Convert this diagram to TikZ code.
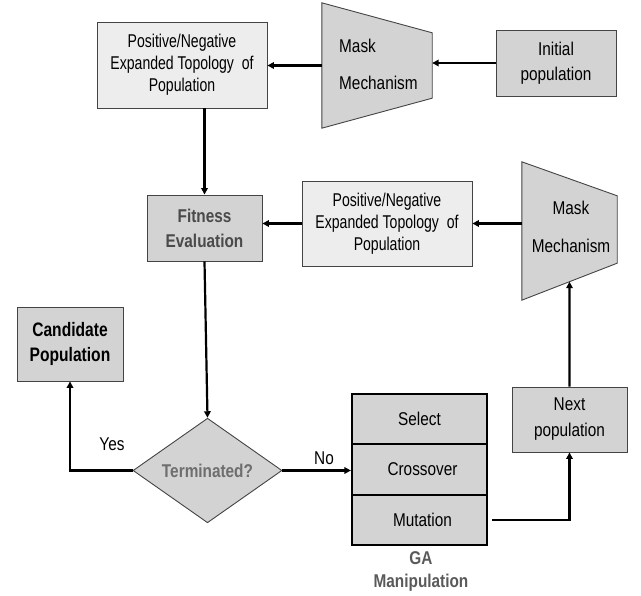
\documentclass[tikz,border=0pt]{standalone}
\usepackage{fontspec}
\setmainfont{Liberation Sans}[FakeStretch=0.83]
\newfontfamily\pnfont{Liberation Sans}[FakeStretch=0.76]
\newfontfamily\candfont{Liberation Sans}[FakeStretch=0.80]
\usetikzlibrary{arrows.meta,shapes.geometric,calc}
\definecolor{boxgray}{HTML}{D3D3D3}
\definecolor{lightgray2}{HTML}{EDEDED}
\definecolor{edgegray}{HTML}{444444}
\definecolor{fittext}{HTML}{4A4A4A}
\definecolor{termtext}{HTML}{6E6E6E}
\definecolor{gatext}{HTML}{5A5A5A}
\begin{document}
\begin{tikzpicture}[x=1pt,y=-1pt,
  font=\fontsize{18.5}{25}\selectfont,
  box/.style={draw=edgegray, line width=0.9pt, fill=boxgray, inner sep=0pt, align=center},
  lbox/.style={box, fill=lightgray2, font=\pnfont\fontsize{18.5}{22}\selectfont},
  gabox/.style={draw=black, line width=2.2pt, fill=boxgray, minimum width=135pt, minimum height=50.3pt, inner sep=0pt},
  trap/.style={draw=edgegray, line width=0.9pt, fill=boxgray},
  arr/.style={line width=2.2pt, -{Triangle[length=6.5pt,width=6.5pt]}},
  lbl/.style={inner sep=0pt}]
\useasboundingbox (0,0) rectangle (641,596);

% top row
\node[lbox, minimum width=170pt, minimum height=86pt] (pn1) at (182,65) {Positive/Negative\\Expanded Topology\ \ of\\Population};
\node[box, minimum width=120pt, minimum height=66pt] (init) at (556,63) {Initial\\population};
\node[inner sep=0pt, minimum width=110pt, minimum height=125pt] (mask1) at (377,65.5) {};
\draw[trap] (mask1.north west) -- ($(mask1.north east)+(0,30)$) -- ($(mask1.south east)+(0,-30)$) -- (mask1.south west) -- cycle;
\node[lbl, align=left, anchor=west, font=\fontsize{18.5}{22}\selectfont] (m1t) at (339,64.5) {Mask\\[15pt]Mechanism};

% middle row
\node[box, minimum width=115pt, minimum height=66pt, text=fittext, font=\fontsize{18.5}{25}\selectfont\bfseries] (fit) at (204.5,228) {Fitness\\Evaluation};
\node[lbox, minimum width=170pt, minimum height=85pt] (pn2) at (387,223.5) {Positive/Negative\\Expanded Topology\ \ of\\Population};
\node[inner sep=0pt, minimum width=95pt, minimum height=138pt] (mask2) at (569.5,231) {};
\coordinate (m2tr) at ($(mask2.north east)+(0,34)$);
\coordinate (m2br) at ($(mask2.south east)+(0,-37)$);
\coordinate (m2b) at ($(mask2.south west)!0.5!(m2br)$);
\draw[trap] (mask2.north west) -- (m2tr) -- (m2br) -- (mask2.south west) -- cycle;
\node[lbl, align=center, font=\fontsize{18.5}{22}\selectfont] (m2t) at (571,227) {Mask\\[16pt]Mechanism};

% bottom row
\node[box, minimum width=106pt, minimum height=74pt, font=\candfont\fontsize{19.5}{25}\selectfont\bfseries] (cand) at (70,344) {Candidate\\Population};
\node[diamond, draw=edgegray, line width=0.9pt, fill=boxgray, inner sep=0pt, minimum width=149pt, minimum height=97pt, text=termtext, font=\fontsize{18.5}{22}\selectfont\bfseries] (term) at (207.5,470.5) {Terminated?};
\node[gabox] (sel) at (419.5,419.2) {Select};
\node[gabox] (cross) at (419.5,469.5) {\hspace*{6pt}Crossover};
\node[gabox] (mut) at (419.5,519.8) {\hspace*{6pt}Mutation};
\node[lbl, align=center, text=gatext, font=\fontsize{18.5}{23}\selectfont\bfseries] (galbl) at (421,571.5) {GA\\Manipulation};
\node[box, minimum width=115pt, minimum height=65pt, font=\fontsize{18.5}{26}\selectfont] (next) at (569.5,419.5) {Next\\population};

\node[lbl] (yes) at (112,444) {Yes};
\node[lbl] (no) at (324,458) {No};

% connectors
\draw[arr] (init.west) -- (init.west -| mask1.east);
\draw[arr] (mask1.west) -- (mask1.west -| pn1.east);
\draw[arr] (fit.north |- pn1.south) -- (fit.north);
\draw[arr] (mask2.west |- pn2.east) -- (pn2.east);
\draw[arr] (pn2.west) -- (pn2.west -| fit.east);
\draw[arr] (fit.south) -- (term.north);
\draw[arr] (term.west) -| (cand.south);
\draw[arr] (term.east) -- (term.east -| cross.west);
\draw[arr] ([xshift=4pt]mut.east) -| (next.south);
\draw[arr] (next.north) -- (m2b);
\end{tikzpicture}
\end{document}
